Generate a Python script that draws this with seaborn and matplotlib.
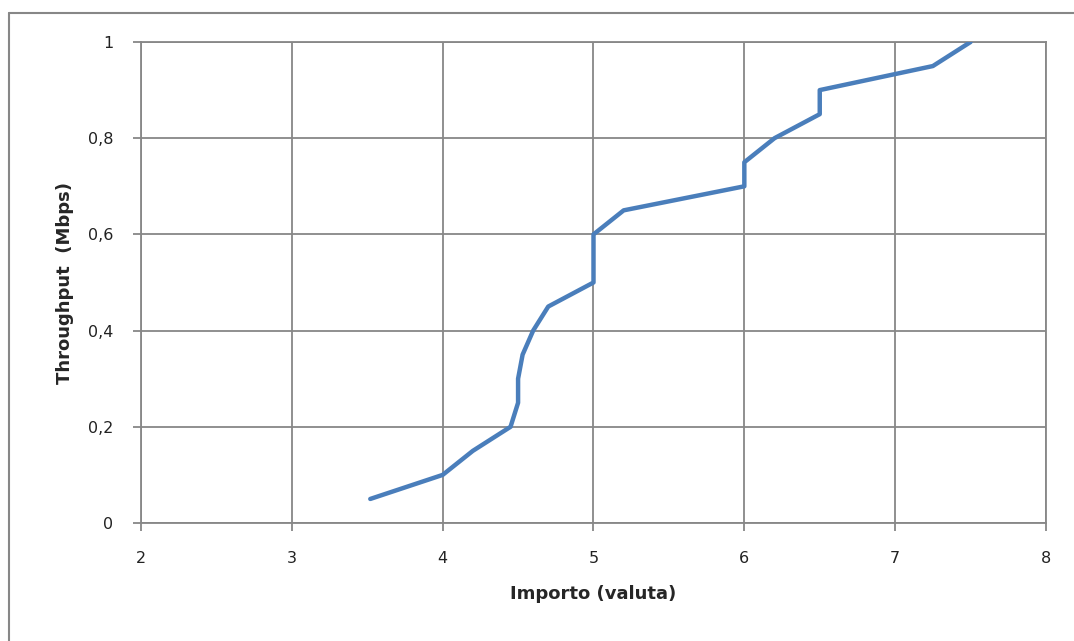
# Grafico throughput vs importo, stile Excel
import numpy as np
import pandas as pd
import matplotlib
matplotlib.use("Agg")
import matplotlib.pyplot as plt
import seaborn as sns
from matplotlib.lines import Line2D

# Dati
importo = [3.52, 4.0, 4.2, 4.45, 4.5, 4.5, 4.53, 4.6, 4.7, 5.0, 5.0, 5.2,
           6.0, 6.0, 6.2, 6.5, 6.5, 7.25, 7.5]
throughput = [0.05, 0.10, 0.15, 0.20, 0.25, 0.30, 0.35, 0.40, 0.45, 0.50, 0.60, 0.65,
              0.70, 0.75, 0.80, 0.85, 0.90, 0.95, 1.00]
x_ticks = [2, 3, 4, 5, 6, 7, 8]
y_ticks = [0, 0.2, 0.4, 0.6, 0.8, 1.0]
y_tick_labels = ["0", "0,2", "0,4", "0,6", "0,8", "1"]

df = pd.DataFrame({"importo": importo, "throughput": throughput})

sns.set_theme(style="white")
plt.rcParams["font.family"] = ["DejaVu Sans"]

grigio = "#878787"
blu = "#4A7EBB"

fig = plt.figure(figsize=(10.74, 6.41), dpi=100)
ax = fig.add_axes([141 / 1074, 1 - 523 / 641, (1046 - 141) / 1074, (523 - 42) / 641])

# sort=False per mantenere l'ordine dei punti (tratti verticali)
sns.lineplot(data=df, x="importo", y="throughput", sort=False, estimator=None,
             color=blu, linewidth=3.2, ax=ax, zorder=3)

ax.set_xlim(2, 8)
ax.set_ylim(0, 1)
ax.set_xticks(x_ticks)
ax.set_xticklabels([str(v) for v in x_ticks])
ax.set_yticks(y_ticks)
ax.set_yticklabels(y_tick_labels)
ax.grid(True, color=grigio, linewidth=1.3)
ax.set_axisbelow(True)

# bordi del riquadro come le linee di griglia
for lato in ["left", "bottom", "top", "right"]:
    ax.spines[lato].set_color(grigio)
    ax.spines[lato].set_linewidth(1.3)

ax.tick_params(axis="both", which="major", direction="out", length=6, width=1.3,
               color=grigio, labelsize=11.5, labelcolor="#222222")
ax.tick_params(axis="x", pad=14)
ax.tick_params(axis="y", pad=14)
ax.xaxis.set_ticks_position("bottom")
ax.yaxis.set_ticks_position("left")

ax.set_xlabel("Importo (valuta)", fontsize=13, fontweight="bold", labelpad=14)
ax.set_ylabel("Throughput  (Mbps)", fontsize=13, fontweight="bold", labelpad=10)

# cornice esterna (solo bordo superiore e sinistro)
fig.add_artist(Line2D([9 / 1074, 1], [1 - 13 / 641, 1 - 13 / 641],
                      transform=fig.transFigure, color=grigio, linewidth=1.5))
fig.add_artist(Line2D([9 / 1074, 9 / 1074], [0, 1 - 13 / 641],
                      transform=fig.transFigure, color=grigio, linewidth=1.5))

fig.savefig("out.png", dpi=100)
